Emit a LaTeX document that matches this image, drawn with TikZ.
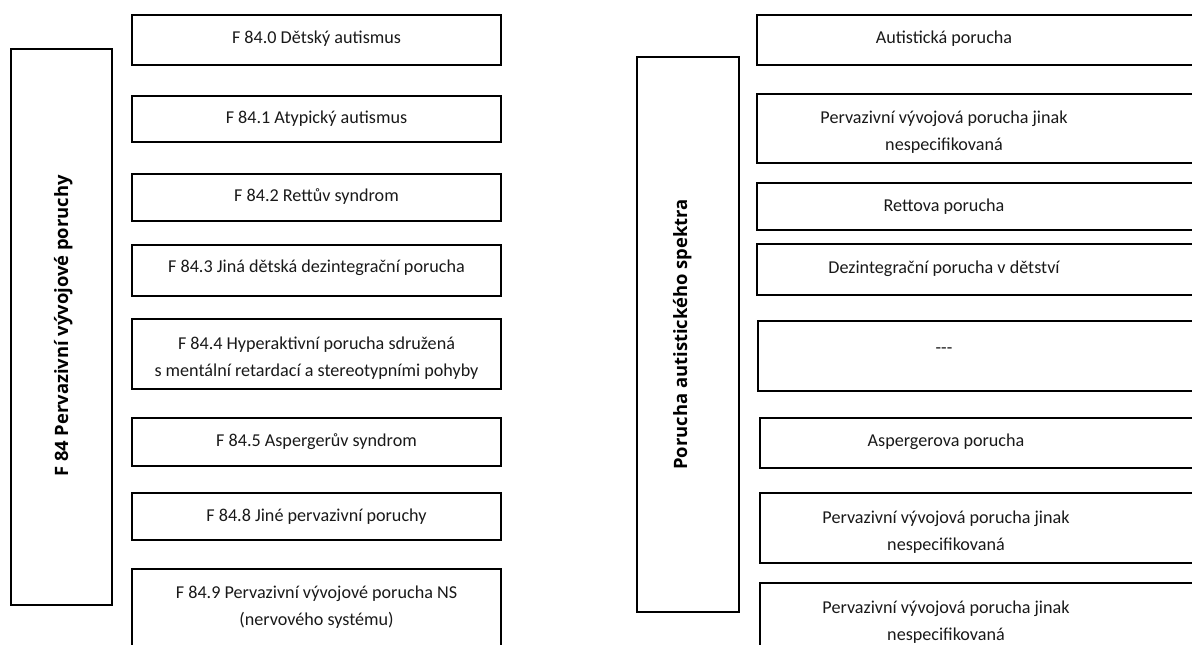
\documentclass[tikz,border=0pt]{standalone}
\usepackage{fontspec}
\setmainfont{Carlito}
\newfontfamily\vfont{Open Sans}
\usetikzlibrary{fit}
\newcommand{\twol}[2]{\begin{tabular}[t]{@{}c@{}}#1\\#2\end{tabular}}
\begin{document}
\begin{tikzpicture}[x=0.75pt,y=-0.75pt,
  box/.style={draw=black, line width=1.4pt, inner sep=0pt},
  txt/.style={anchor=base, inner sep=0pt, text=black!90, font=\fontsize{13.6}{20.3}\selectfont},
  vtxt/.style={anchor=base, inner sep=0pt, rotate=90, font=\vfont\bfseries\fontsize{13.8}{16}\selectfont}]
\useasboundingbox (0,0) rectangle (1192,644);
% left column
\node[box, fit={(11,49) (112,605)}] (L) {};
\node[vtxt] (Lt) at (68,326) {F 84 Pervazivní vývojové poruchy};
\node[box, fit={(132,15) (501,65)}] (l0) {};
\node[box, fit={(132,96) (501,142)}] (l1) {};
\node[box, fit={(132,174) (501,221)}] (l2) {};
\node[box, fit={(132,245) (501,296)}] (l3) {};
\node[box, fit={(132,319) (501,389)}] (l4) {};
\node[box, fit={(132,418) (501,466)}] (l5) {};
\node[box, fit={(132,493) (501,540)}] (l6) {};
\node[box, fit={(132,569) (501,652)}] (l7) {};
\node[txt] (l0t) at (316.5,43) {F 84.0 Dětský autismus};
\node[txt] (l1t) at (316.5,123) {F 84.1 Atypický autismus};
\node[txt] (l2t) at (316.5,201) {F 84.2 Rettův syndrom};
\node[txt] (l3t) at (316.5,272) {F 84.3 Jiná dětská dezintegrační porucha};
\node[txt] (l4t) at (316.5,349) {\twol{F 84.4 Hyperaktivní porucha sdružená}{s mentální retardací a stereotypními pohyby}};
\node[txt] (l5t) at (316.5,446) {F 84.5 Aspergerův syndrom};
\node[txt] (l6t) at (316.5,521) {F 84.8 Jiné pervazivní poruchy};
\node[txt] (l7t) at (316.5,598) {\twol{F 84.9 Pervazivní vývojové porucha NS}{(nervového systému)}};
% right column
\node[box, fit={(637,57) (739,612)}] (R) {};
\node[vtxt] (Rt) at (687,334.5) {Porucha autistického spektra};
\node[box, fit={(757,15) (1200,65)}] (r0) {};
\node[box, fit={(757,94) (1200,163)}] (r1) {};
\node[box, fit={(757,183) (1200,230)}] (r2) {};
\node[box, fit={(757,244) (1200,295)}] (r3) {};
\node[box, fit={(758,321) (1200,391)}] (r4) {};
\node[box, fit={(760,418) (1200,468)}] (r5) {};
\node[box, fit={(760,493) (1200,563)}] (r6) {};
\node[box, fit={(760,583) (1200,670)}] (r7) {};
\node[txt] (r0t) at (944,43) {Autistická porucha};
\node[txt] (r1t) at (944,123) {\twol{Pervazivní vývojová porucha jinak}{nespecifikovaná}};
\node[txt] (r2t) at (944,211) {Rettova porucha};
\node[txt] (r3t) at (944,273) {Dezintegrační porucha v dětství};
\node[txt] (r4t) at (944,353) {{-}{-}{-}};
\node[txt] (r5t) at (946,446) {Aspergerova porucha};
\node[txt] (r6t) at (946,523) {\twol{Pervazivní vývojová porucha jinak}{nespecifikovaná}};
\node[txt] (r7t) at (946,613) {\twol{Pervazivní vývojová porucha jinak}{nespecifikovaná}};
\end{tikzpicture}
\end{document}
